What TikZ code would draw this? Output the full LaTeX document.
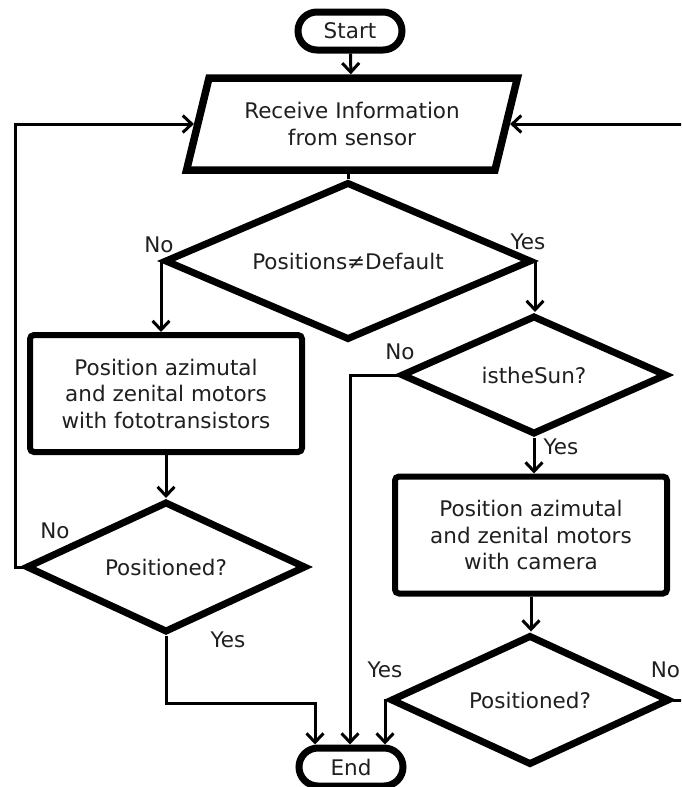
\documentclass[tikz,border=0pt]{standalone}
\usepackage{fontspec}
\setmainfont{DejaVu Sans}
\usetikzlibrary{shapes.geometric,arrows.meta,calc}
\begin{document}
\begin{tikzpicture}[x=1pt,y=-1pt,
  every node/.style={font=\fontsize{21.5pt}{26.5pt}\selectfont, text=black!88},
  term/.style={draw, line width=7pt, rounded corners=19pt, minimum width=104pt, minimum height=38pt, inner sep=0pt},
  io/.style={draw, line width=7.5pt, trapezium, trapezium left angle=68.6, trapezium right angle=111.4, trapezium stretches=true, minimum width=332pt, minimum height=92pt, inner sep=0pt, align=center},
  proc/.style={draw, line width=6pt, rounded corners=4pt, minimum width=272pt, minimum height=117pt, inner sep=0pt, align=center},
  dec/.style={draw, line width=7pt, diamond, aspect=2.3, inner sep=0pt},
  conn/.style={line width=3pt},
  arr/.style={conn, -{Straight Barb[length=9pt,width=17pt,line width=3pt]}},
  lbl/.style={inner sep=0pt}
]
\useasboundingbox (0,0) rectangle (681,787);
\clip (0,0) rectangle (681,787);

\node[term] (start) at (350,31) {Start};
\node[io] (recv) at (352,124) {Receive Information\\from sensor};
\node[dec, minimum width=367pt, minimum height=158pt] (d1) at (348,261) {Positions≠Default};
\node[proc] (box1) at (166,393.5) {Position azimutal\\and zenital motors\\with fototransistors};
\node[dec, minimum width=266pt, minimum height=119pt] (d2) at (534,375) {istheSun?};
\node[proc] (box2) at (531,535) {Position azimutal\\and zenital motors\\with camera};
\node[dec, minimum width=280pt, minimum height=131pt] (d3) at (166,567) {Positioned?};
\node[dec, minimum width=279pt, minimum height=130pt] (d4) at (530,700) {Positioned?};
\node[term] (endn) at (351,767) {End};

\node[lbl] at (159,245) {No};
\node[lbl] at (528,242) {Yes};
\node[lbl] at (400,352) {No};
\node[lbl] at (561,447) {Yes};
\node[lbl] at (55,531) {No};
\node[lbl] at (228,640) {Yes};
\node[lbl] at (385,670) {Yes};
\node[lbl] at (665.5,670) {No};

\coordinate (lft) at (15,567);
\coordinate (rgt) at (686,700);
\coordinate (jn) at (165,703);

\draw[arr] (start) -- (recv);
\draw[conn] (recv.south -| d1.north) -- (d1.north);
\draw[arr] (d1.west) -- (d1.west |- box1.north);
\draw[arr] (d1.east) -- (d1.east |- d2.north);
\draw[arr] (d2.west) -| ([xshift=-1pt]endn.north);
\draw[arr] (d2.south) -- (d2.south |- box2.north);
\draw[arr] (box1.south) -- (box1.south |- d3.north);
\draw[arr] (box2.south) -- (box2.south |- d4.north);
\draw[arr] (d3.south) -- (d3.south |- jn) -| ([xshift=-36pt]endn.north);
\draw[arr] (d4.west) -| ([xshift=34pt]endn.north);
\draw[arr] (d3.west) -- (lft) |- (recv.west);
\draw[arr] (d4.east) -- (rgt) |- (recv.east);
\end{tikzpicture}
\end{document}
